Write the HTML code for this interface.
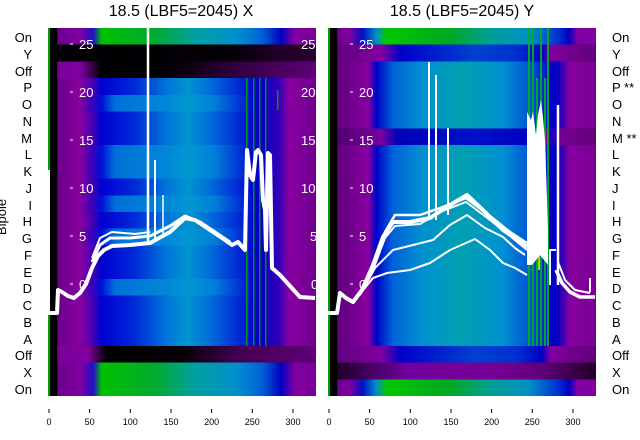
<!DOCTYPE html>
<html><head><meta charset="utf-8"><style>
html,body{margin:0;padding:0;background:#fff;}
svg{display:block;font-family:"Liberation Sans","DejaVu Sans",sans-serif;}
</style></head><body>
<svg width="640" height="440" viewBox="0 0 640 440" xmlns="http://www.w3.org/2000/svg">
<defs>
<linearGradient id="a_on" x1="0" x2="1" y1="0" y2="0">
<stop offset="0" stop-color="#000"/><stop offset="0.033" stop-color="#000"/><stop offset="0.036" stop-color="#6a0088"/><stop offset="0.12" stop-color="#8000a0"/><stop offset="0.17" stop-color="#2010c8"/><stop offset="0.2" stop-color="#00c000"/><stop offset="0.4" stop-color="#00aa30"/><stop offset="0.55" stop-color="#00a0a0"/><stop offset="0.7" stop-color="#0090cc"/><stop offset="0.8" stop-color="#0060d8"/><stop offset="0.87" stop-color="#0000c0"/><stop offset="0.92" stop-color="#8000a0"/><stop offset="1" stop-color="#7a0098"/></linearGradient>
<linearGradient id="a_y" x1="0" x2="1" y1="0" y2="0">
<stop offset="0" stop-color="#000"/><stop offset="0.7" stop-color="#050008"/><stop offset="0.85" stop-color="#200028"/><stop offset="1" stop-color="#280030"/></linearGradient>
<linearGradient id="a_off" x1="0" x2="1" y1="0" y2="0">
<stop offset="0" stop-color="#000"/><stop offset="0.033" stop-color="#000"/><stop offset="0.036" stop-color="#7a0098"/><stop offset="0.12" stop-color="#8000a0"/><stop offset="0.2" stop-color="#000"/><stop offset="0.45" stop-color="#000"/><stop offset="0.7" stop-color="#300040"/><stop offset="1" stop-color="#600078"/></linearGradient>
<linearGradient id="a_mid" x1="0" x2="1" y1="0" y2="0">
<stop offset="0" stop-color="#000"/><stop offset="0.033" stop-color="#000"/><stop offset="0.036" stop-color="#6a0088"/><stop offset="0.12" stop-color="#8800a0"/><stop offset="0.16" stop-color="#5000b0"/><stop offset="0.2" stop-color="#0000d0"/><stop offset="0.32" stop-color="#0028d8"/><stop offset="0.45" stop-color="#0078d8"/><stop offset="0.52" stop-color="#0094d0"/><stop offset="0.6" stop-color="#0070d8"/><stop offset="0.7" stop-color="#0030d8"/><stop offset="0.78" stop-color="#0000c8"/><stop offset="0.86" stop-color="#3000b8"/><stop offset="0.9" stop-color="#8800a0"/><stop offset="1" stop-color="#700090"/></linearGradient>
<linearGradient id="a_mid2" x1="0" x2="1" y1="0" y2="0">
<stop offset="0" stop-color="#000"/><stop offset="0.033" stop-color="#000"/><stop offset="0.036" stop-color="#6a0088"/><stop offset="0.12" stop-color="#8800a0"/><stop offset="0.16" stop-color="#4000b8"/><stop offset="0.2" stop-color="#0010d8"/><stop offset="0.25" stop-color="#0070d8"/><stop offset="0.45" stop-color="#0088d8"/><stop offset="0.52" stop-color="#0098d0"/><stop offset="0.62" stop-color="#0080d8"/><stop offset="0.7" stop-color="#0040d8"/><stop offset="0.78" stop-color="#0000c8"/><stop offset="0.86" stop-color="#3000b8"/><stop offset="0.9" stop-color="#8800a0"/><stop offset="1" stop-color="#700090"/></linearGradient>
<linearGradient id="a_off2" x1="0" x2="1" y1="0" y2="0">
<stop offset="0" stop-color="#000"/><stop offset="0.033" stop-color="#000"/><stop offset="0.036" stop-color="#7a0098"/><stop offset="0.15" stop-color="#8000a0"/><stop offset="0.22" stop-color="#000"/><stop offset="0.5" stop-color="#050008"/><stop offset="0.7" stop-color="#400050"/><stop offset="1" stop-color="#600078"/></linearGradient>
<linearGradient id="b_on" x1="0" x2="1" y1="0" y2="0">
<stop offset="0" stop-color="#000"/><stop offset="0.033" stop-color="#000"/><stop offset="0.036" stop-color="#6a0088"/><stop offset="0.08" stop-color="#8000a0"/><stop offset="0.13" stop-color="#0010c8"/><stop offset="0.18" stop-color="#0090c0"/><stop offset="0.22" stop-color="#00c800"/><stop offset="0.45" stop-color="#00a820"/><stop offset="0.6" stop-color="#00a090"/><stop offset="0.75" stop-color="#0090c8"/><stop offset="0.86" stop-color="#0030d0"/><stop offset="0.9" stop-color="#0000c0"/><stop offset="0.93" stop-color="#8000a0"/><stop offset="1" stop-color="#8000a0"/></linearGradient>
<linearGradient id="b_y" x1="0" x2="1" y1="0" y2="0">
<stop offset="0" stop-color="#000"/><stop offset="0.033" stop-color="#000"/><stop offset="0.036" stop-color="#600080"/><stop offset="0.2" stop-color="#8000a0"/><stop offset="0.27" stop-color="#0000c8"/><stop offset="0.55" stop-color="#0040d0"/><stop offset="0.7" stop-color="#0030d0"/><stop offset="0.8" stop-color="#0000c0"/><stop offset="0.83" stop-color="#8000a0"/><stop offset="1" stop-color="#600078"/></linearGradient>
<linearGradient id="b_mid" x1="0" x2="1" y1="0" y2="0">
<stop offset="0" stop-color="#000"/><stop offset="0.033" stop-color="#000"/><stop offset="0.036" stop-color="#600080"/><stop offset="0.15" stop-color="#8800a0"/><stop offset="0.18" stop-color="#0000c8"/><stop offset="0.24" stop-color="#0060d8"/><stop offset="0.35" stop-color="#0090d0"/><stop offset="0.5" stop-color="#00a0b0"/><stop offset="0.65" stop-color="#0090d0"/><stop offset="0.76" stop-color="#0050d8"/><stop offset="0.84" stop-color="#0000c0"/><stop offset="0.88" stop-color="#4000b0"/><stop offset="0.9" stop-color="#8800a0"/><stop offset="1" stop-color="#780094"/></linearGradient>
<linearGradient id="b_m" x1="0" x2="1" y1="0" y2="0">
<stop offset="0" stop-color="#000"/><stop offset="0.033" stop-color="#000"/><stop offset="0.036" stop-color="#500070"/><stop offset="0.2" stop-color="#7800a0"/><stop offset="0.26" stop-color="#0000b8"/><stop offset="0.55" stop-color="#0010c8"/><stop offset="0.75" stop-color="#0000c0"/><stop offset="0.8" stop-color="#8000a0"/><stop offset="1" stop-color="#600078"/></linearGradient>
<linearGradient id="b_x" x1="0" x2="1" y1="0" y2="0">
<stop offset="0" stop-color="#000"/><stop offset="0.033" stop-color="#000"/><stop offset="0.036" stop-color="#200028"/><stop offset="0.3" stop-color="#7000a0"/><stop offset="0.6" stop-color="#780098"/><stop offset="0.8" stop-color="#600078"/><stop offset="1" stop-color="#200028"/></linearGradient>
</defs>

<text x="181" y="16" font-size="16" text-anchor="middle" fill="#000">18.5 (LBF5=2045) X</text>
<text x="462" y="16" font-size="16" text-anchor="middle" fill="#000">18.5 (LBF5=2045) Y</text>

<g shape-rendering="crispEdges">
<rect x="48" y="28" width="268" height="17.5" fill="url(#a_on)"/>
<rect x="48" y="44.7" width="268" height="17.5" fill="url(#a_y)"/>
<rect x="48" y="61.5" width="268" height="17.5" fill="url(#a_off)"/>
<rect x="48" y="78.2" width="268" height="17.5" fill="url(#a_mid)"/>
<rect x="48" y="94.9" width="268" height="17.5" fill="url(#a_mid2)"/>
<rect x="48" y="111.6" width="268" height="17.5" fill="url(#a_mid)"/>
<rect x="48" y="128.4" width="268" height="17.5" fill="url(#a_mid)"/>
<rect x="48" y="145.1" width="268" height="17.5" fill="url(#a_mid2)"/>
<rect x="48" y="161.8" width="268" height="17.5" fill="url(#a_mid2)"/>
<rect x="48" y="178.5" width="268" height="17.5" fill="url(#a_mid)"/>
<rect x="48" y="195.3" width="268" height="17.5" fill="url(#a_mid2)"/>
<rect x="48" y="212" width="268" height="17.5" fill="url(#a_mid)"/>
<rect x="48" y="228.7" width="268" height="17.5" fill="url(#a_mid2)"/>
<rect x="48" y="245.5" width="268" height="17.5" fill="url(#a_mid)"/>
<rect x="48" y="262.2" width="268" height="17.5" fill="url(#a_mid)"/>
<rect x="48" y="278.9" width="268" height="17.5" fill="url(#a_mid2)"/>
<rect x="48" y="295.6" width="268" height="17.5" fill="url(#a_mid)"/>
<rect x="48" y="312.4" width="268" height="17.5" fill="url(#a_mid)"/>
<rect x="48" y="329.1" width="268" height="17.5" fill="url(#a_mid)"/>
<rect x="48" y="345.8" width="268" height="17.5" fill="url(#a_off2)"/>
<rect x="48" y="362.5" width="268" height="17.5" fill="url(#a_on)"/>
<rect x="48" y="379.3" width="268" height="16.7" fill="url(#a_on)"/>
<rect x="48" y="28" width="2" height="368" fill="#00a000"/>
<rect x="50" y="28" width="7" height="368" fill="#000"/>
<g fill="#00b000" opacity="0.8">
<rect x="246" y="78" width="1.5" height="268"/><rect x="253" y="78" width="1.5" height="268"/><rect x="259" y="78" width="1.5" height="268"/><rect x="265" y="78" width="1.5" height="268"/><rect x="277" y="90" width="1.5" height="20"/>
</g>
</g>

<g shape-rendering="crispEdges">
<rect x="328" y="28" width="268" height="17.5" fill="url(#b_on)"/>
<rect x="328" y="44.7" width="268" height="17.5" fill="url(#b_y)"/>
<rect x="328" y="61.5" width="268" height="17.5" fill="url(#b_mid)"/>
<rect x="328" y="78.2" width="268" height="17.5" fill="url(#b_mid)"/>
<rect x="328" y="94.9" width="268" height="17.5" fill="url(#b_mid)"/>
<rect x="328" y="111.6" width="268" height="17.5" fill="url(#b_mid)"/>
<rect x="328" y="128.4" width="268" height="17.5" fill="url(#b_m)"/>
<rect x="328" y="145.1" width="268" height="17.5" fill="url(#b_mid)"/>
<rect x="328" y="161.8" width="268" height="17.5" fill="url(#b_mid)"/>
<rect x="328" y="178.5" width="268" height="17.5" fill="url(#b_mid)"/>
<rect x="328" y="195.3" width="268" height="17.5" fill="url(#b_mid)"/>
<rect x="328" y="212" width="268" height="17.5" fill="url(#b_mid)"/>
<rect x="328" y="228.7" width="268" height="17.5" fill="url(#b_mid)"/>
<rect x="328" y="245.5" width="268" height="17.5" fill="url(#b_mid)"/>
<rect x="328" y="262.2" width="268" height="17.5" fill="url(#b_mid)"/>
<rect x="328" y="278.9" width="268" height="17.5" fill="url(#b_mid)"/>
<rect x="328" y="295.6" width="268" height="17.5" fill="url(#b_mid)"/>
<rect x="328" y="312.4" width="268" height="17.5" fill="url(#b_mid)"/>
<rect x="328" y="329.1" width="268" height="17.5" fill="url(#b_mid)"/>
<rect x="328" y="345.8" width="268" height="17.5" fill="url(#b_y)"/>
<rect x="328" y="362.5" width="268" height="17.5" fill="url(#b_x)"/>
<rect x="328" y="379.3" width="268" height="16.7" fill="url(#b_on)"/>
<rect x="328" y="28" width="2" height="368" fill="#00a000"/>
<rect x="330" y="28" width="7" height="368" fill="#000"/>
<rect x="548" y="61" width="12" height="285" fill="#0000c8" opacity="0.7"/>
<g fill="#00b020" opacity="0.9">
<rect x="528" y="28" width="2" height="318"/><rect x="532" y="28" width="2" height="318"/><rect x="536" y="78" width="2" height="268"/><rect x="540" y="28" width="2" height="318"/><rect x="544" y="78" width="2" height="268"/><rect x="547" y="28" width="2" height="318"/>
<rect x="538" y="230" width="2" height="40" fill="#c0e000"/>
</g>
</g>

<g fill="none" stroke="#fff" stroke-linejoin="round">
<path d="M48,313 L57,313 L58,290 L62,292 L68,296 L74,298 L80,293 L86,284 L92,268 L98,256 L104,250 L112,246 L130,245 L150,243 L170,232 L185,218 L195,220 L210,230 L225,240 L232,245 L238,242 L245,250 L247,150 L250,175 L253,180 L256,152 L258,150 L261,155 L263,200 L265,210 L266,250 L268,153 L270,155 L272,268 L280,275 L290,286 L300,297 L315,298" stroke-width="4"/>
<path d="M92,262 L100,245 L110,238 L130,238 L150,236 L170,226 L185,216 L200,222 L215,232 L230,242" stroke-width="3"/>
<path d="M92,258 L100,238 L112,232 L135,234 L150,232" stroke-width="2"/>
<path d="M148,242 L148,28" stroke-width="2.5"/>
<path d="M155,240 L155,160" stroke-width="2"/>
<path d="M163,238 L163,195" stroke-width="1.5"/>
<path d="M49,313 L49,170" stroke-width="2"/>
</g>

<g fill="none" stroke="#fff" stroke-linejoin="round">
<path d="M328,313 L337,313 L340,293 L346,298 L353,302 L362,290 L373,265 L383,237 L393,222 L410,222 L430,218 L450,205 L467,195 L485,212 L503,230 L515,238 L527,247" stroke-width="4"/>
<path d="M373,268 L385,232 L395,215 L420,215 L440,208 L466,198 L490,216 L510,232 L527,243" stroke-width="2.5"/>
<path d="M373,270 L385,238 L395,226 L420,224 L440,212 L466,202 L490,220 L510,236 L527,250" stroke-width="2"/>
<path d="M360,295 L375,268 L393,250 L433,240 L450,225 L467,215 L485,228 L503,237 L515,248 L525,255" stroke-width="2"/>
<path d="M355,300 L373,278 L387,273 L410,270 L430,263 L450,250 L475,239 L490,250 L503,263 L515,268 L527,275" stroke-width="2"/>
<path d="M556,270 L562,283 L570,292 L580,297 L595,297" stroke-width="3.5"/>
<path d="M558,262 L565,280 L575,290 L590,293" stroke-width="2"/>
<path d="M590,292 L590,278" stroke-width="2"/>
<path d="M429,220 L429,62" stroke-width="2"/>
<path d="M436,220 L436,75" stroke-width="2"/>
<path d="M448,215 L448,128" stroke-width="2"/>
<path d="M558,285 L558,105" stroke-width="2.5"/>
<path d="M550,285 L550,250 L556,250" stroke-width="2"/>
</g>
<polygon points="527,265 527,112 531,120 533,112 536,135 538,115 541,100 543,118 545,140 546,170 548,230 548,265 540,255 532,265" fill="#fff"/>

<g fill="#fff" font-size="13">
<rect x="70" y="43.5" width="3" height="1"/><text x="79" y="49">25</text>
<rect x="70" y="91.5" width="3" height="1"/><text x="79" y="97">20</text>
<rect x="70" y="139.5" width="3" height="1"/><text x="79" y="145">15</text>
<rect x="70" y="187.5" width="3" height="1"/><text x="79" y="193">10</text>
<rect x="70" y="235.5" width="3" height="1"/><text x="79" y="241">5</text>
<rect x="70" y="283.5" width="3" height="1"/><text x="79" y="289">0</text>
<text x="301" y="49">25</text><text x="301" y="97">20</text><text x="301" y="145">15</text><text x="301" y="193">10</text><text x="310" y="241">5</text><text x="311" y="289">0</text>
<rect x="350" y="43.5" width="3" height="1"/><text x="359" y="49">25</text>
<rect x="350" y="91.5" width="3" height="1"/><text x="359" y="97">20</text>
<rect x="350" y="139.5" width="3" height="1"/><text x="359" y="145">15</text>
<rect x="350" y="187.5" width="3" height="1"/><text x="359" y="193">10</text>
<rect x="350" y="235.5" width="3" height="1"/><text x="359" y="241">5</text>
<rect x="350" y="283.5" width="3" height="1"/><text x="359" y="289">0</text>
</g>
<rect x="316" y="20" width="12" height="380" fill="#fff"/>
<rect x="596" y="20" width="10" height="380" fill="#fff"/>

<g font-size="13" fill="#000" text-anchor="end">
<text x="32" y="42">On</text><text x="32" y="59">Y</text><text x="32" y="76">Off</text><text x="32" y="92">P</text><text x="32" y="109">O</text><text x="32" y="126">N</text><text x="32" y="143">M</text><text x="32" y="159">L</text><text x="32" y="176">K</text><text x="32" y="193">J</text><text x="32" y="210">I</text><text x="32" y="226">H</text><text x="32" y="243">G</text><text x="32" y="260">F</text><text x="32" y="277">E</text><text x="32" y="293">D</text><text x="32" y="310">C</text><text x="32" y="327">B</text><text x="32" y="344">A</text><text x="32" y="360">Off</text><text x="32" y="377">X</text><text x="32" y="394">On</text>
</g>
<text x="6" y="217" font-size="13" fill="#000" text-anchor="middle" transform="rotate(-90 6 217)">Bipole</text>
<g font-size="13" fill="#000">
<text x="612" y="42">On</text><text x="612" y="59">Y</text><text x="612" y="76">Off</text><text x="612" y="92">P **</text><text x="612" y="109">O</text><text x="612" y="126">N</text><text x="612" y="143">M **</text><text x="612" y="159">L</text><text x="612" y="176">K</text><text x="612" y="193">J</text><text x="612" y="210">I</text><text x="612" y="226">H</text><text x="612" y="243">G</text><text x="612" y="260">F</text><text x="612" y="277">E</text><text x="612" y="293">D</text><text x="612" y="310">C</text><text x="612" y="327">B</text><text x="612" y="344">A</text><text x="612" y="360">Off</text><text x="612" y="377">X</text><text x="612" y="394">On</text>
</g>
<g font-size="9" fill="#000" text-anchor="middle">
<g stroke="#000" stroke-width="1">
<line x1="49" y1="409" x2="49" y2="413"/><line x1="89.6" y1="409" x2="89.6" y2="413"/><line x1="130.3" y1="409" x2="130.3" y2="413"/><line x1="171" y1="409" x2="171" y2="413"/><line x1="211.6" y1="409" x2="211.6" y2="413"/><line x1="252.3" y1="409" x2="252.3" y2="413"/><line x1="293" y1="409" x2="293" y2="413"/>
<line x1="329" y1="409" x2="329" y2="413"/><line x1="369.6" y1="409" x2="369.6" y2="413"/><line x1="410.3" y1="409" x2="410.3" y2="413"/><line x1="451" y1="409" x2="451" y2="413"/><line x1="491.6" y1="409" x2="491.6" y2="413"/><line x1="532.3" y1="409" x2="532.3" y2="413"/><line x1="573" y1="409" x2="573" y2="413"/>
</g>
<text x="49" y="425">0</text><text x="89.6" y="425">50</text><text x="130.3" y="425">100</text><text x="171" y="425">150</text><text x="211.6" y="425">200</text><text x="252.3" y="425">250</text><text x="293" y="425">300</text>
<text x="329" y="425">0</text><text x="369.6" y="425">50</text><text x="410.3" y="425">100</text><text x="451" y="425">150</text><text x="491.6" y="425">200</text><text x="532.3" y="425">250</text><text x="573" y="425">300</text>
</g>
</svg>
</body></html>
